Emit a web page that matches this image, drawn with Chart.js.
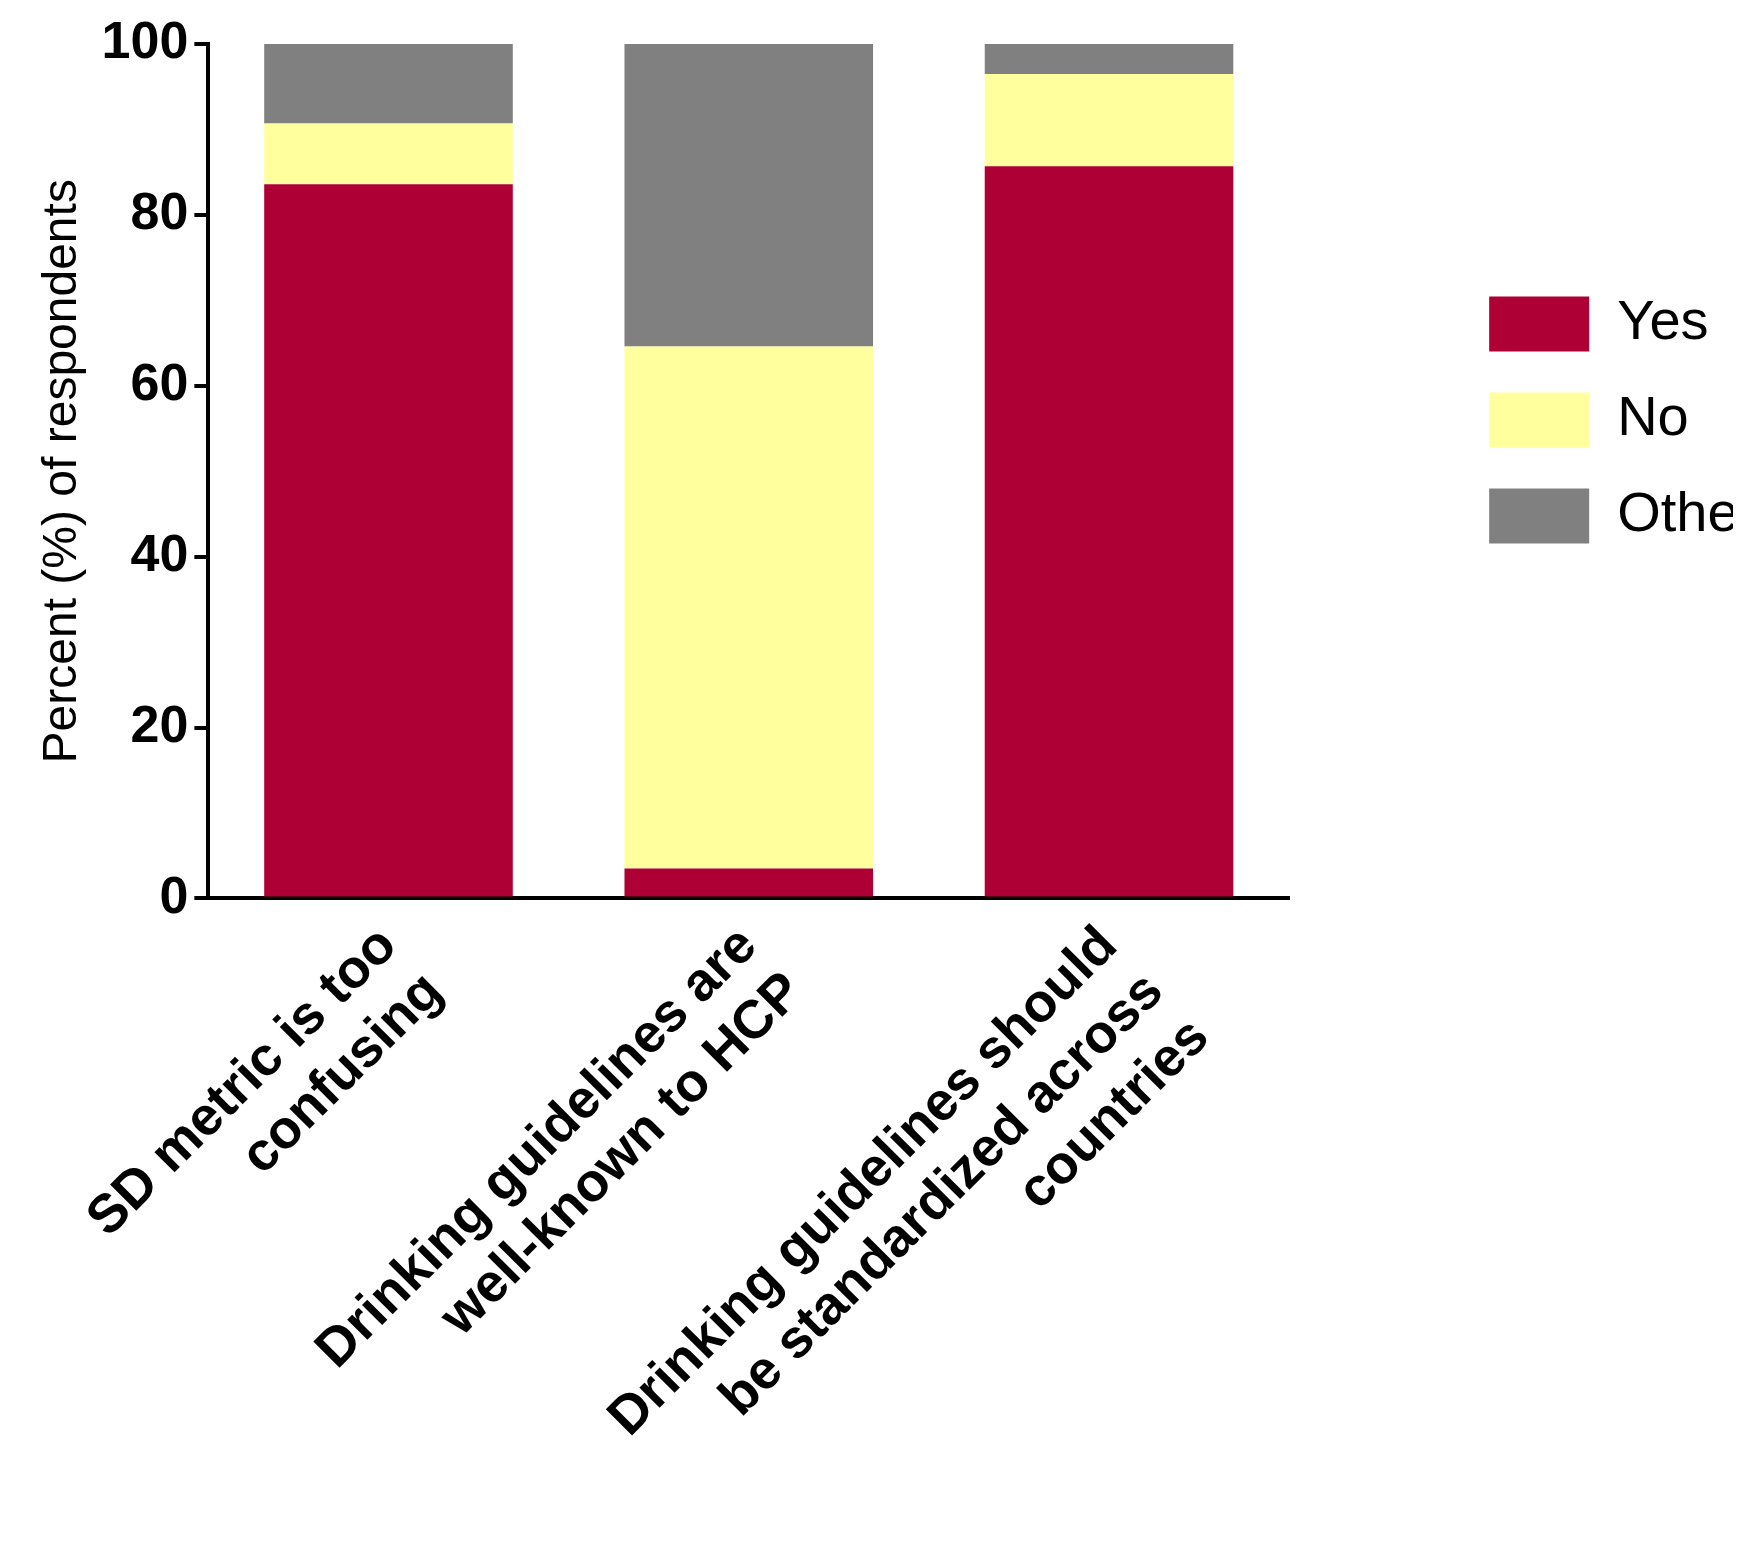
<!DOCTYPE html>
<html>
<head>
<meta charset="utf-8">
<script src="https://cdn.jsdelivr.net/npm/chart.js@4"></script>
<style>
  html, body { margin: 0; background: #fff; }
  #wrap { width: 1748px; height: 1550px; }
</style>
</head>
<body>
<div id="wrap"><canvas id="c"></canvas></div>
<script>
const categories = [
  ['SD metric is too', 'confusing'],
  ['Drinking guidelines are', 'well-known to HCP'],
  ['Drinking guidelines should', 'be standardized across', 'countries']
];
const yesValues = [83.6, 3.5, 85.7];
const noValues = [7.1, 61.1, 10.8];
const otherValues = [9.3, 35.4, 3.5];
const yTicks = [0, 20, 40, 60, 80, 100];

const font = 'Arial, Liberation Sans';

new Chart(document.getElementById('c'), {
  type: 'bar',
  data: {
    labels: categories,
    datasets: [
      { label: 'Yes', data: yesValues, backgroundColor: '#ae0035' },
      { label: 'No', data: noValues, backgroundColor: '#ffff9e' },
      { label: 'Other', data: otherValues, backgroundColor: '#808080' }
    ]
  },
  options: {
    responsive: true,
    maintainAspectRatio: false,
    animation: false,
    datasets: { bar: { barPercentage: 0.69, categoryPercentage: 1 } },
    layout: { padding: { top: 44, right: 15, left: 30, bottom: 0 } },
    plugins: {
      legend: {
        position: 'right',
        align: 'start',
        title: { display: true, text: ' ', padding: { top: 200, bottom: 0 }, font: { size: 10 } },
        labels: {
          boxWidth: 100, boxHeight: 55, padding: 40,
          color: '#000', font: { family: font, size: 56 }
        }
      },
      tooltip: { enabled: false }
    },
    scales: {
      x: {
        stacked: true,
        grid: { display: false },
        border: { color: '#000', width: 4 },
        ticks: {
          color: '#000', maxRotation: 45, minRotation: 45, padding: 8,
          font: { family: font, size: 54, weight: 'bold' }
        }
      },
      y: {
        stacked: true, min: 0, max: 100,
        afterBuildTicks: ax => { ax.ticks = yTicks.map(v => ({ value: v })); },
        grid: { drawOnChartArea: false, drawTicks: true, tickLength: 14, color: '#000', lineWidth: 4 },
        border: { color: '#000', width: 4 },
        ticks: {
          color: '#000', padding: 6,
          font: { family: font, size: 52, weight: 'bold' }
        },
        title: {
          display: true, text: 'Percent (%) of respondents', color: '#000',
          font: { family: font, size: 48 }
        }
      },
      gap: {
        position: 'right', min: 0, max: 100,
        grid: { display: false }, border: { display: false },
        ticks: { display: false },
        afterFit: s => { s.width = 160; }
      }
    }
  }
});
</script>
</body>
</html>
